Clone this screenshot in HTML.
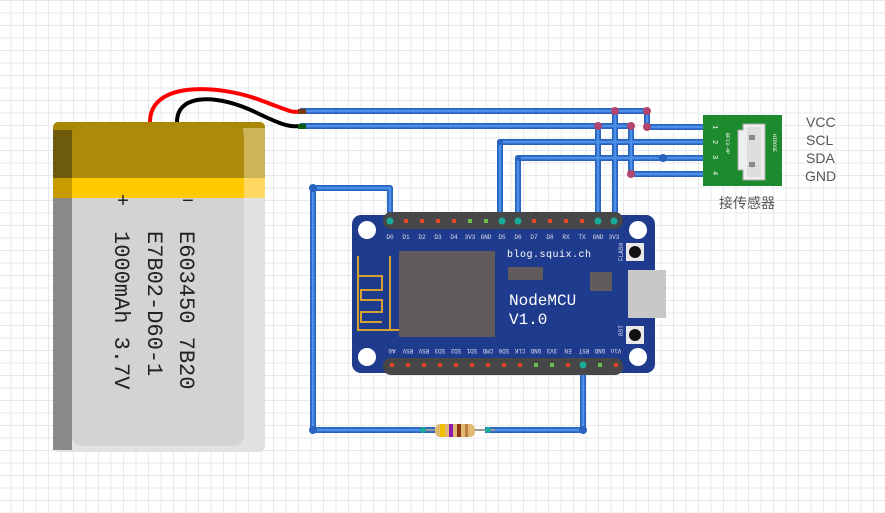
<!DOCTYPE html>
<html><head><meta charset="utf-8"><style>
html,body{margin:0;padding:0;background:#fff}
body{width:885px;height:513px;overflow:hidden;
background-image:linear-gradient(#e8e8f0 1px,transparent 1px),linear-gradient(90deg,#e8e8f0 1px,transparent 1px);
background-size:12.5px 12.5px;background-position:-2px 0}
svg{position:absolute;left:0;top:0}
</style></head><body>
<svg width="885" height="513" viewBox="0 0 885 513" xmlns="http://www.w3.org/2000/svg" font-family="Liberation Mono, monospace">
<!-- battery -->
<rect x="53" y="122" width="212" height="330" rx="5" fill="#e2e2e2"/>
<rect x="53" y="122" width="212" height="56" rx="5" fill="#a98808"/>
<rect x="53" y="178" width="212" height="20" fill="#ffc800"/>
<rect x="53" y="130" width="19" height="48" fill="#6e5a0c"/>
<rect x="53" y="178" width="19" height="20" fill="#c89c00"/>
<rect x="53" y="198" width="19" height="252" fill="#8a8a8a"/>
<rect x="243" y="128" width="22" height="50" fill="#cdb35a"/>
<rect x="243" y="178" width="22" height="20" fill="#ffd862"/>
<rect x="72" y="125" width="172" height="80" rx="12" fill="#ad8a0b"/>
<rect x="72" y="178" width="172" height="20" fill="#ffc800"/>
<rect x="72" y="198" width="172" height="248" rx="10" fill="#d3d3d3"/>
<rect x="72" y="198" width="172" height="20" fill="#d3d3d3"/>
<g font-family="Liberation Mono, monospace" font-size="22" fill="#222">
<text x="123" y="207" text-anchor="middle" font-size="20">+</text>
<text x="188" y="207" text-anchor="middle" font-size="20">−</text>
<text transform="translate(180,231) rotate(90)">E603450 7B20</text>
<text transform="translate(148,231) rotate(90)">E7B02-D60-1</text>
<text transform="translate(115,231) rotate(90)">1000mAh 3.7V</text>
</g>
<!-- battery wires -->
<path d="M150 122 C150 80,220 85,260 100 S290 112,305 111" stroke="#f00" stroke-width="4" fill="none"/>
<path d="M177 122 C177 92,220 95,255 112 S290 126,305 126" stroke="#000" stroke-width="4" fill="none"/>
<!-- wires -->
<g stroke="#2a62c0" stroke-width="6" fill="none" stroke-linejoin="round">
<path d="M300 111 H647 V127 H718"/>
<path d="M300 126 H631 V174 H718"/>
<path d="M615 111 V220"/><path d="M598 126 V220"/>
<path d="M500 220 V142 H718"/><path d="M518 220 V158 H718"/>
<path d="M390 220 V188 H313 V430 H435"/>
<path d="M485 430 H583 V366"/>
</g>
<g stroke="#4a90e8" stroke-width="2.5" fill="none" stroke-linejoin="round">
<path d="M300 111 H647 V127 H718"/>
<path d="M300 126 H631 V174 H718"/>
<path d="M615 111 V220"/><path d="M598 126 V220"/>
<path d="M500 220 V142 H718"/><path d="M518 220 V158 H718"/>
<path d="M390 220 V188 H313 V430 H435"/>
<path d="M485 430 H583 V366"/>
</g>
<g fill="#b2456e"><circle cx="615" cy="111" r="4"/><circle cx="647" cy="111" r="4"/><circle cx="598" cy="126" r="4"/><circle cx="631" cy="126" r="4"/><circle cx="647" cy="127" r="4"/><circle cx="631" cy="174" r="4"/><circle cx="711" cy="127" r="3"/><circle cx="711" cy="174" r="3"/></g>
<g fill="#2a62c0"><circle cx="663" cy="158" r="4"/><circle cx="313" cy="188" r="4"/><circle cx="313" cy="430" r="4"/><circle cx="583" cy="430" r="4"/><circle cx="500" cy="142" r="3"/><circle cx="518" cy="158" r="3"/></g>
<rect x="298" y="109" width="8" height="5" fill="#7a3a10"/><rect x="298" y="124" width="8" height="5" fill="#0b5a10"/>
<!-- resistor -->
<line x1="425" y1="430" x2="495" y2="430" stroke="#999" stroke-width="2"/>
<rect x="435" y="424" width="40" height="13" rx="5" fill="#e0b870"/>
<rect x="440" y="424" width="5" height="13" fill="#f0c000"/>
<rect x="449" y="424" width="4" height="13" fill="#8a1ab0"/>
<rect x="457" y="424" width="4" height="13" fill="#8a3a10"/>
<rect x="465" y="424" width="3" height="13" fill="#c08040"/>
<circle cx="423" cy="430" r="3" fill="#1aaa9a"/><circle cx="488" cy="430" r="3" fill="#1aaa9a"/>
<!-- NodeMCU -->
<rect x="352" y="215" width="303" height="158" rx="9" fill="#1f3b8e"/>
<rect x="628" y="270" width="38" height="48" fill="#c8c8c8"/>
<g fill="#fff"><circle cx="367" cy="230" r="9"/><circle cx="638" cy="230" r="9"/><circle cx="367" cy="357" r="9"/><circle cx="638" cy="357" r="9"/></g>
<rect x="383" y="212" width="240" height="17" rx="8" fill="#474747"/>
<rect x="383" y="358" width="240" height="17" rx="8" fill="#474747"/>
<g>
<rect x="388" y="219" width="4" height="4" fill="#e04a2a"/><rect x="404" y="219" width="4" height="4" fill="#e04a2a"/><rect x="420" y="219" width="4" height="4" fill="#e04a2a"/><rect x="436" y="219" width="4" height="4" fill="#e04a2a"/><rect x="452" y="219" width="4" height="4" fill="#e04a2a"/><rect x="468" y="219" width="4" height="4" fill="#6ac04a"/><rect x="484" y="219" width="4" height="4" fill="#6ac04a"/><rect x="532" y="219" width="4" height="4" fill="#e04a2a"/><rect x="548" y="219" width="4" height="4" fill="#e04a2a"/><rect x="564" y="219" width="4" height="4" fill="#e04a2a"/><rect x="580" y="219" width="4" height="4" fill="#e04a2a"/>
</g>
<g fill="#1aaa9a"><circle cx="390" cy="221" r="3.5"/><circle cx="502" cy="221" r="3.5"/><circle cx="518" cy="221" r="3.5"/><circle cx="598" cy="221" r="3.5"/><circle cx="614" cy="221" r="3.5"/><circle cx="583" cy="365" r="3.5"/></g>
<g>
<rect x="390" y="363" width="4" height="4" fill="#e04a2a"/><rect x="406" y="363" width="4" height="4" fill="#e04a2a"/><rect x="422" y="363" width="4" height="4" fill="#e04a2a"/><rect x="438" y="363" width="4" height="4" fill="#e04a2a"/><rect x="454" y="363" width="4" height="4" fill="#e04a2a"/><rect x="470" y="363" width="4" height="4" fill="#e04a2a"/><rect x="486" y="363" width="4" height="4" fill="#e04a2a"/><rect x="502" y="363" width="4" height="4" fill="#e04a2a"/><rect x="518" y="363" width="4" height="4" fill="#e04a2a"/><rect x="534" y="363" width="4" height="4" fill="#6ac04a"/><rect x="550" y="363" width="4" height="4" fill="#6ac04a"/><rect x="566" y="363" width="4" height="4" fill="#e04a2a"/><rect x="598" y="363" width="4" height="4" fill="#6ac04a"/><rect x="614" y="363" width="4" height="4" fill="#e04a2a"/>
</g>
<g fill="#dde" font-size="6" text-anchor="middle">
<text x="390" y="239">D0</text><text x="406" y="239">D1</text><text x="422" y="239">D2</text><text x="438" y="239">D3</text><text x="454" y="239">D4</text><text x="470" y="239">3V3</text><text x="486" y="239">GND</text><text x="502" y="239">D5</text><text x="518" y="239">D6</text><text x="534" y="239">D7</text><text x="550" y="239">D8</text><text x="566" y="239">RX</text><text x="582" y="239">TX</text><text x="598" y="239">GND</text><text x="614" y="239">3V3</text>
</g>
<g fill="#dde" font-size="6" text-anchor="middle">
<text transform="translate(392,349) rotate(180)">A0</text><text transform="translate(408,349) rotate(180)">RSV</text><text transform="translate(424,349) rotate(180)">RSV</text><text transform="translate(440,349) rotate(180)">SD3</text><text transform="translate(456,349) rotate(180)">SD2</text><text transform="translate(472,349) rotate(180)">SD1</text><text transform="translate(488,349) rotate(180)">CMD</text><text transform="translate(504,349) rotate(180)">SD0</text><text transform="translate(520,349) rotate(180)">CLK</text><text transform="translate(536,349) rotate(180)">GND</text><text transform="translate(552,349) rotate(180)">3V3</text><text transform="translate(568,349) rotate(180)">EN</text><text transform="translate(584,349) rotate(180)">RST</text><text transform="translate(600,349) rotate(180)">GND</text><text transform="translate(616,349) rotate(180)">Vin</text>
</g>
<rect x="399" y="251" width="96" height="86" fill="#625b5b"/>
<path d="M358 256 V330 H399 M358 330 V276 H382 V290 H361 V300 H382 V312 H361 V322 H382 M390 256 V330" stroke="#d4a030" stroke-width="2" fill="none"/>
<rect x="508" y="267" width="35" height="13" fill="#625b5b"/>
<rect x="590" y="272" width="22" height="19" fill="#625b5b"/>
<rect x="626" y="243" width="18" height="18" fill="#e8e8e8"/><circle cx="635" cy="252" r="6" fill="#111"/>
<rect x="626" y="326" width="18" height="18" fill="#e8e8e8"/><circle cx="635" cy="335" r="6" fill="#111"/>
<text transform="translate(623,261) rotate(-90)" font-size="6" fill="#dde">FLASH</text>
<text transform="translate(623,336) rotate(-90)" font-size="6" fill="#dde">RST</text>
<text x="507" y="257" font-size="10" fill="#fff" letter-spacing="0.5">blog.squix.ch</text>
<text x="509" y="305" font-size="16" fill="#fff">NodeMCU</text>
<text x="509" y="324" font-size="16" fill="#fff">V1.0</text>
<!-- sensor -->
<rect x="703" y="115" width="79" height="71" fill="#1e8a2e"/>
<path d="M743 124 H765 V180 H743 V170 H738 V130 H743 Z" fill="#eee" stroke="#aaa"/>
<rect x="747" y="127" width="14" height="50" fill="#ddd"/>
<rect x="749" y="135" width="6" height="5" fill="#888"/><rect x="749" y="162" width="6" height="5" fill="#888"/>
<g fill="#fff" font-size="7"><text transform="translate(713,125) rotate(90)">1</text><text transform="translate(713,140) rotate(90)">2</text><text transform="translate(713,155) rotate(90)">3</text><text transform="translate(713,171) rotate(90)">4</text>
<text transform="translate(726,133) rotate(90)" font-size="5">BF13-4P</text><text transform="translate(773,134) rotate(90)" font-size="5">HIROSE</text></g>
<g font-family="Liberation Sans, sans-serif" font-size="14" fill="#555">
<text x="806" y="127">VCC</text><text x="806" y="145">SCL</text><text x="806" y="163">SDA</text><text x="805" y="181">GND</text>
<text x="719" y="208" font-family="Liberation Sans, Noto Sans CJK SC, sans-serif">接传感器</text>
</g>
</svg>
</body></html>
